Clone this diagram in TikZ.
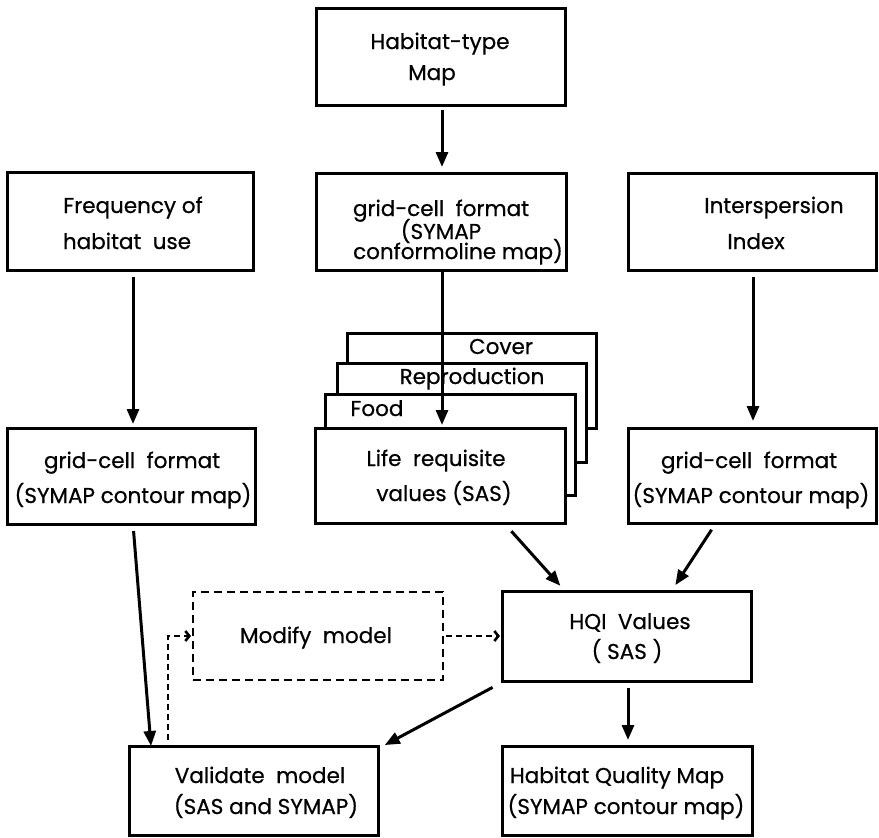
\documentclass[tikz,border=0pt]{standalone}
\usepackage{fontspec}
\setmainfont{Poppins}
\usetikzlibrary{arrows.meta,calc}
\newfontfamily\diagfont{Poppins}[FakeBold=0.6]
\begin{document}
\begin{tikzpicture}[x=1pt,y=-1pt,
  box/.style={draw, line width=3pt, inner sep=0pt, outer sep=0pt, fill=white},
  dbox/.style={draw, line width=2.6pt, dash pattern=on 8pt off 5pt, inner sep=0pt, outer sep=0pt},
  txt/.style={font=\diagfont\fontsize{21.5}{24}\selectfont, inner sep=0pt, text height=12pt, text depth=0pt, anchor=center},
  arr/.style={line width=3pt, -{Triangle[length=15pt,width=12pt]}},
  darr/.style={line width=2.6pt, dash pattern=on 6pt off 4pt, -{Straight Barb[length=4pt,width=10pt]}}
]
\useasboundingbox (0,0) rectangle (879,838);
\fill[white] (0,0) rectangle (879,838);

% boxes
\node[box, minimum width=249pt, minimum height=97pt] (top) at (440.5,56.5) {};
\node[box, minimum width=246pt, minimum height=98pt] (freq) at (130,221) {};
\node[box, minimum width=250pt, minimum height=97pt] (gmid) at (441,221.5) {};
\node[box, minimum width=248pt, minimum height=97pt] (inter) at (752,221.5) {};
\node[box, minimum width=248pt, minimum height=96pt] (gleft) at (131,476) {};
\node[box, minimum width=249pt, minimum height=95pt] (cover) at (471.5,380.5) {};
\node[box, minimum width=249pt, minimum height=99pt] (repro) at (461.5,412.5) {};
\node[box, minimum width=250pt, minimum height=101pt] (food) at (450,444.5) {};
\node[box, minimum width=250pt, minimum height=95pt] (life) at (440,475.5) {};
\node[box, minimum width=248pt, minimum height=95pt] (gright) at (752,475.5) {};
\node[dbox, minimum width=250pt, minimum height=88pt] (modify) at (318,636) {};
\node[box, minimum width=249pt, minimum height=90pt] (hqi) at (626.5,636) {};
\node[box, minimum width=249pt, minimum height=89pt] (valid) at (253.5,790.5) {};
\node[box, minimum width=250pt, minimum height=89pt] (hqm) at (627,790.5) {};

% texts
\node[txt] (t1a) at (440,43) {Habitat-type};
\node[txt] (t1b) at (432,74) {Map};
\node[txt] (t2a) at (133,207) {Frequency of};
\node[txt] (t2b) at (127,243) {habitat\ \ use};
\node[txt] (t3a) at (441,210) {grid-cell\ \ format};
\node[txt] (t3b) at (441,233) {(SYMAP};
\node[txt] (t3c) at (458,253) {conformoline map)};
\node[txt] (t4a) at (774,207) {Interspersion};
\node[txt] (t4b) at (756,243) {Index};
\node[txt] (tcov) at (501,348) {Cover};
\node[txt] (trep) at (472,378) {Reproduction};
\node[txt] (tfood) at (377,410) {Food};
\node[txt] (t5a) at (436,460) {Life\ \ requisite};
\node[txt] (t5b) at (444,495) {values (SAS)};
\node[txt] (t6a) at (132,462) {grid-cell\ \ format};
\node[txt] (t6b) at (133,497) {(SYMAP contour map)};
\node[txt] (t7a) at (749,462) {grid-cell\ \ format};
\node[txt] (t7b) at (751,497) {(SYMAP contour map)};
\node[txt] (t8) at (316,637) {Modify\ \ model};
\node[txt] (t9a) at (630,623) {HQI\ \ Values};
\node[txt] (t9b) at (627,653) {( SAS )};
\node[txt] (t10a) at (260,777) {Validate\ \ model};
\node[txt] (t10b) at (266,808) {(SAS and SYMAP)};
\node[txt] (t11a) at (617,777) {Habitat Quality\ Map};
\node[txt] (t11b) at (626,808) {(SYMAP contour map)};

% connectors
\draw[arr, shorten <=5pt, shorten >=6pt] ([xshift=1.5pt]top.south) -- ([xshift=1pt]gmid.north);
\draw[arr, shorten <=7pt, shorten >=4pt] ([xshift=3pt]freq.south) -- ([xshift=2pt]gleft.north);
\draw[arr, shorten >=3pt] ([xshift=1pt]gmid.south) -- ([xshift=2pt]life.north);
\draw[arr, shorten <=7pt, shorten >=7pt] ([xshift=1pt]inter.south) -- ([xshift=1pt]gright.north);
\draw[arr, shorten <=7pt] ([xshift=2pt]gleft.south) -- ([xshift=22pt]valid.north west);
\draw[arr, shorten <=11pt, shorten >=7pt] ([xshift=64pt]life.south) -- ([xshift=63pt]hqi.north west);
\draw[arr, shorten <=8pt, shorten >=7pt] ([xshift=-36pt]gright.south) -- ([xshift=45pt]hqi.north);
\draw[arr, shorten <=5pt, shorten >=2pt] ([xshift=-5pt,yshift=-4pt]hqi.south west) -- ([xshift=5pt]valid.north east);
\draw[arr, shorten <=7pt, shorten >=6pt] ([xshift=1.5pt]hqi.south) -- ([xshift=1pt]hqm.north);
\draw[darr, shorten <=6pt, shorten >=2pt] ([xshift=39pt]valid.north west) |- (modify.west);
\draw[darr, shorten <=3pt, shorten >=2pt] (modify.east) -- (hqi.west);
\end{tikzpicture}
\end{document}
